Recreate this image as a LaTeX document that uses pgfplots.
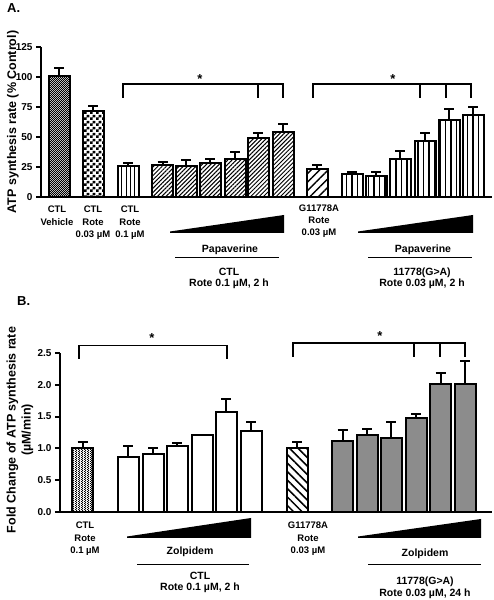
\documentclass[border=0pt]{standalone}
\usepackage{fontspec}
\setmainfont{Liberation Sans}
\usepackage{pgfplots}
\pgfplotsset{compat=1.18}
\usetikzlibrary{patterns,patterns.meta}

\pgfdeclarepatternformonly{bigchecker}{\pgfpointorigin}{\pgfqpoint{6pt}{6pt}}{\pgfqpoint{6pt}{6pt}}{%
  \pgfpathrectangle{\pgfpointorigin}{\pgfqpoint{3pt}{3pt}}%
  \pgfpathrectangle{\pgfqpoint{3pt}{3pt}}{\pgfqpoint{3pt}{3pt}}%
  \pgfusepath{fill}}
\pgfdeclarepatternformonly{finechecker}{\pgfpointorigin}{\pgfqpoint{2.4pt}{2.4pt}}{\pgfqpoint{2.4pt}{2.4pt}}{%
  \pgfpathrectangle{\pgfpointorigin}{\pgfqpoint{1.2pt}{1.2pt}}%
  \pgfpathrectangle{\pgfqpoint{1.2pt}{1.2pt}}{\pgfqpoint{1.2pt}{1.2pt}}%
  \pgfusepath{fill}}

\newcommand{\fs}[1]{\fontsize{#1}{#1}\selectfont\bfseries}

\pgfplotsset{
  mybars/.style={ybar, bar width=21pt, bar shift=0pt, draw=black, line width=2pt,
    error bars/y dir=plus, error bars/y explicit,
    error bars/error bar style={line width=2pt, black},
    error bars/error mark options={line width=2pt, mark size=5pt, black, rotate=90}},
  myaxis/.style={scale only axis, axis x line=bottom, axis y line=left,
    axis line style={-, line width=2pt}, xtick=\empty,
    tick align=outside, major tick length=5pt,
    ytick style={line width=2pt, black},
    yticklabel style={font=\fs{10}},
    /pgf/number format/assume math mode=true, clip=false}
}

\begin{document}
\begin{tikzpicture}
\useasboundingbox (0,0) rectangle (493pt,600pt);

% ---------------- Panel A ----------------
\begin{axis}[myaxis, at={(41pt,403pt)}, anchor=south west,
  width=451pt, height=150pt, xmin=41, xmax=492, ymin=0, ymax=125,
  ytick={0,25,50,75,100,125}]
\addplot[mybars, fill=gray!30, postaction={pattern=finechecker}]
  coordinates {(59,101) +- (0,6.5)};
\addplot[mybars, fill=white, postaction={pattern=bigchecker}]
  coordinates {(93,72) +- (0,4)};
\addplot[mybars, fill=white, postaction={pattern={Lines[angle=90,distance=4.2pt,line width=0.9pt]}}]
  coordinates {(128,26) +- (0,2)};
\addplot[mybars, fill=white, postaction={pattern={Lines[angle=45,distance=3pt,line width=1pt]}}]
  coordinates {(162.5,26.5) +- (0,2.5) (186,26) +- (0,5) (210,28) +- (0,4)
               (235,31.5) +- (0,6) (258,49.5) +- (0,3.5) (283,54) +- (0,6.5)};
\addplot[mybars, fill=white, postaction={pattern={Lines[angle=45,distance=6pt,line width=1.4pt]}}]
  coordinates {(317,23) +- (0,4)};
\addplot[mybars, fill=white, postaction={pattern={Lines[angle=90,distance=5.5pt,line width=1.4pt]}}]
  coordinates {(352,19) +- (0,2) (376,17.5) +- (0,3.5) (400,32) +- (0,6.5)
               (425,46.5) +- (0,6.5) (449,64) +- (0,9) (473,68) +- (0,7)};
\end{axis}

% ---------------- Panel B ----------------
\begin{axis}[myaxis, at={(60pt,88.3pt)}, anchor=south west,
  width=432pt, height=158.5pt, xmin=60, xmax=492, ymin=0, ymax=2.5,
  ytick={0,0.5,1,1.5,2,2.5},
  yticklabel style={/pgf/number format/.cd, fixed, fixed zerofill, precision=1}]
\addplot[mybars, fill=white, postaction={pattern=finechecker}]
  coordinates {(82.5,1.01) +- (0,0.09)};
\addplot[mybars, fill=white]
  coordinates {(128,0.87) +- (0,0.16) (153,0.91) +- (0,0.09) (177,1.04) +- (0,0.05)
               (202,1.21) +- (0,0) (226,1.58) +- (0,0.2) (251,1.28) +- (0,0.14)};
\addplot[mybars, fill=white, postaction={pattern={Lines[angle=-45,distance=6pt,line width=1.5pt]}}]
  coordinates {(297,1.01) +- (0,0.09)};
\addplot[mybars, fill=black!45]
  coordinates {(342.5,1.115) +- (0,0.175) (367,1.21) +- (0,0.09) (391,1.17) +- (0,0.24)
               (416,1.48) +- (0,0.06) (440.5,2.01) +- (0,0.18) (465,2.01) +- (0,0.36)};
\end{axis}

% ---------------- Annotations (pixel-based coordinates) ----------------
\begin{scope}[x=1pt, y=1pt]
\node[anchor=base west, inner sep=0, font=\fs{13}] at (7,587) {A.};
\node[anchor=base west, inner sep=0, font=\fs{13}] at (17,294) {B.};

\node[rotate=90, font=\fs{12.5}] at (13,478) {ATP synthesis rate (\% Control)};
\node[rotate=90, font=\fontsize{12.5}{15}\selectfont\bfseries, align=center] at (20,170)
  {Fold Change of ATP synthesis rate\\(µM/min)};

% Panel A category labels
\begin{scope}[every node/.style={anchor=base, inner sep=0, font=\fs{9.5}}]
\node at (57,387.5) {CTL}; \node at (57,374.5) {Vehicle};
\node at (93,387.5) {CTL}; \node at (93,374.5) {Rote}; \node at (93,362.5) {0.03 µM};
\node at (130,387.5) {CTL}; \node at (130,374.5) {Rote}; \node at (130,362.5) {0.1 µM};
\node at (319,388.5) {G11778A}; \node at (319,376.5) {Rote}; \node at (319,364.5) {0.03 µM};
% Panel B category labels
\node at (85,71.5) {CTL}; \node at (85,58.5) {Rote}; \node at (85,46.5) {0.1 µM};
\node at (308,71.5) {G11778A}; \node at (308,58.5) {Rote}; \node at (308,46.5) {0.03 µM};
\end{scope}

\begin{scope}[every node/.style={anchor=base, inner sep=0, font=\fs{10.5}}]
\node at (230,347) {Papaverine};
\node at (229,324.5) {CTL}; \node at (229,313.5) {Rote 0.1 µM, 2 h};
\node at (423,347) {Papaverine};
\node at (422,324.5) {11778(G>A)}; \node at (422,313.5) {Rote 0.03 µM, 2 h};
\node at (190,45.5) {Zolpidem};
\node at (200,20.5) {CTL}; \node at (200,9.5) {Rote 0.1 µM, 2 h};
\node at (425,43.5) {Zolpidem};
\node at (425,15.5) {11778(G>A)}; \node at (425,4) {Rote 0.03 µM, 24 h};
\end{scope}

% wedges
\fill (170,367) -- (284,367) -- (284,385) -- (170,368.5) -- cycle;
\fill (358,367) -- (473,367) -- (473,385) -- (358,368.5) -- cycle;
\fill (127,62) -- (251,62) -- (251,82) -- (127,63.5) -- cycle;
\fill (358,62) -- (481,62) -- (481,81) -- (358,63.5) -- cycle;
% underlines
\draw[line width=1pt] (175,342) -- (279,342);
\draw[line width=1pt] (368,342) -- (472,342);
\draw[line width=1pt] (137,35) -- (249,35);
\draw[line width=1pt] (368,35) -- (481,35);

% significance brackets
\begin{scope}[line width=1.6pt]
\draw (123,502) -- (123,516) -- (283,516) -- (283,502);
\draw (258,516) -- (258,502);
\draw (313,502) -- (313,516) -- (471,516) -- (471,502);
\draw (420,516) -- (420,502);
\draw (446,516) -- (446,502);
\draw (79,241) -- (79,254.3) -- (227,254.3) -- (227,241);
\draw (293,243) -- (293,257) -- (465,257) -- (465,243);
\draw (414,257) -- (414,243);
\draw (440,257) -- (440,243);
\end{scope}
\begin{scope}[every node/.style={inner sep=0, font=\fs{13}}]
\node at (200,521) {*};
\node at (393,521) {*};
\node at (152,262) {*};
\node at (380,264) {*};
\end{scope}
\end{scope}
\end{tikzpicture}
\end{document}
